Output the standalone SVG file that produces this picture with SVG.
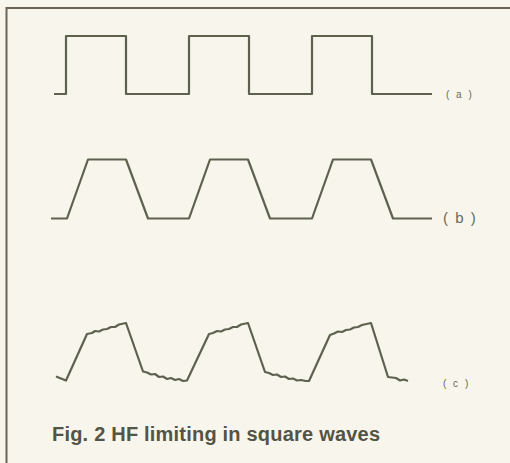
<svg xmlns="http://www.w3.org/2000/svg" width="510" height="463" viewBox="0 0 510 463">
<style>
.w{fill:none;stroke:#5f6150;stroke-width:2.2;stroke-linejoin:round;stroke-linecap:butt}
.f{fill:none;stroke:#6a6356;stroke-width:2}
.lbl{font-family:"Liberation Sans",Arial,sans-serif;fill:#666a5c}
</style>
<rect x="0" y="0" width="510" height="463" fill="#f8f6ec"/>
<g id="frame">
<path class="f" d="M6.5 463 V8 H510"/>
</g>
<g id="wave-a">
<path class="w" d="M54 94 H66 V36 H126 V94 H189 V36 H249 V94 H312 V36 H372 V94 H432"/>
<text class="lbl" x="446" y="98" font-size="10" letter-spacing="2">( a )</text>
</g>
<g id="wave-b">
<path class="w" d="M51 218.5 H67 L88 159.5 H126 L148 218.5 H189 L210 159.5 H248 L270 218.5 H312 L333 159.5 H371 L393 218.5 H432"/>
<text class="lbl" x="443" y="223" font-size="15" letter-spacing="1.5">( b )</text>
</g>
<g id="wave-c">
<path class="w" d="M56 376.5 L66 380.5 L87 334 L92 333 L95 331 L99 331.5 L103 329.5 L107 329 L111 327 L115 327 L119 324.5 L126 323 L143 371.5 L147 372.5 L151 374.5 L155 374 L159 377 L163 376.5 L167 379 L171 378 L175 380 L179 379 L183 381 L187 380.5 L209 334 L213 333 L217 331 L221 331.5 L225 329.5 L229 329 L233 327 L237 327 L241 324.5 L248 323 L265 372 L269 373 L273 375 L277 374.5 L281 377 L285 376.5 L289 379 L293 378.5 L297 380.5 L301 380 L306 381 L309 381 L330 335 L334 333.5 L338 331.5 L342 332 L346 330 L350 329.5 L354 327.5 L358 327 L362 325 L371 323 L388 377 L392 377.5 L396 378 L400 380.5 L404 379.5 L408 381"/>
<text class="lbl" x="443" y="387" font-size="10" letter-spacing="2">( c )</text>
</g>
<g id="caption">
<text x="52" y="441" font-family="Liberation Sans,Arial,sans-serif" font-weight="bold" font-size="20" fill="#545446" textLength="328">Fig. 2 HF limiting in square waves</text>
</g>
</svg>
